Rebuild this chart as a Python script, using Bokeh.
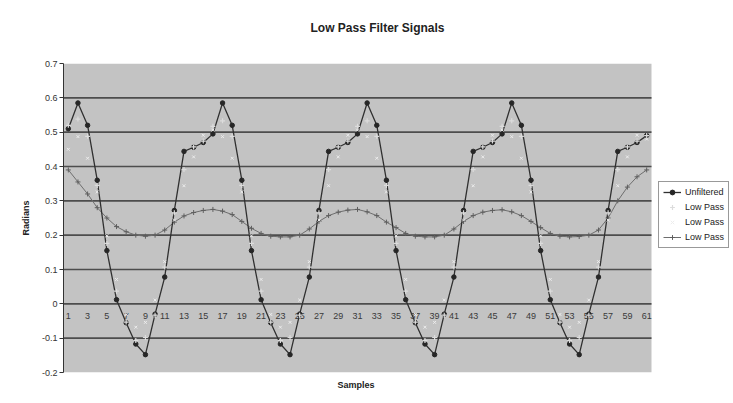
from bokeh.plotting import figure
from bokeh.models import Range1d, FixedTicker, Legend, LegendItem, Title, BoxAnnotation
from bokeh.core.properties import value
from bokeh.embed import file_html
from bokeh.resources import INLINE

# ---------------- data ----------------
samples = list(range(1, 62))

unfiltered = [
    0.51, 0.585, 0.52, 0.36, 0.155, 0.012, -0.055, -0.117, -0.148, -0.03, 0.078, 0.272, 0.444, 0.456, 0.47,
    0.495, 0.585, 0.52, 0.36, 0.155, 0.012, -0.055, -0.117, -0.148, -0.03, 0.078, 0.272, 0.444, 0.456, 0.47,
    0.495, 0.585, 0.52, 0.36, 0.155, 0.012, -0.055, -0.117, -0.148, -0.03, 0.078, 0.272, 0.444, 0.456, 0.47,
    0.495, 0.585, 0.52, 0.36, 0.155, 0.012, -0.055, -0.117, -0.148, -0.03, 0.078, 0.272, 0.444, 0.456, 0.47,
    0.49,
]

low_pass_1 = [
    0.52, 0.538, 0.488, 0.345, 0.176, 0.037, -0.053, -0.107, -0.098, -0.033, 0.107, 0.265, 0.391, 0.457, 0.474,
    0.517, 0.533, 0.488, 0.345, 0.176, 0.037, -0.053, -0.107, -0.098, -0.033, 0.107, 0.265, 0.391, 0.457, 0.474,
    0.517, 0.533, 0.488, 0.345, 0.176, 0.037, -0.053, -0.107, -0.098, -0.033, 0.107, 0.265, 0.391, 0.457, 0.474,
    0.517, 0.533, 0.488, 0.345, 0.176, 0.037, -0.053, -0.107, -0.098, -0.033, 0.107, 0.265, 0.391, 0.457, 0.474,
    0.49,
]

low_pass_2 = [
    0.45, 0.487, 0.424, 0.326, 0.198, 0.071, -0.031, -0.068, -0.054, 0.011, 0.123, 0.244, 0.344, 0.428, 0.491,
    0.506, 0.487, 0.424, 0.326, 0.198, 0.071, -0.031, -0.068, -0.054, 0.011, 0.123, 0.244, 0.344, 0.428, 0.491,
    0.506, 0.487, 0.424, 0.326, 0.198, 0.071, -0.031, -0.068, -0.054, 0.011, 0.123, 0.244, 0.344, 0.428, 0.491,
    0.506, 0.487, 0.424, 0.326, 0.198, 0.071, -0.031, -0.068, -0.054, 0.011, 0.123, 0.244, 0.344, 0.428, 0.491,
    0.48,
]

low_pass_3 = [
    0.39, 0.355, 0.32, 0.28, 0.25, 0.225, 0.21, 0.2, 0.197, 0.2, 0.215, 0.238, 0.256, 0.266, 0.272,
    0.275, 0.27, 0.26, 0.24, 0.22, 0.205, 0.197, 0.195, 0.195, 0.2, 0.218, 0.24, 0.257, 0.267, 0.273,
    0.275, 0.268, 0.257, 0.238, 0.222, 0.205, 0.197, 0.195, 0.195, 0.2, 0.218, 0.24, 0.257, 0.267, 0.272,
    0.274, 0.268, 0.257, 0.24, 0.222, 0.205, 0.197, 0.195, 0.196, 0.2, 0.215, 0.25, 0.3, 0.34, 0.37,
    0.39,
]

x_tick_labels = ["1", "3", "5", "7", "9", "11", "13", "15", "17", "19", "21", "23", "25", "27", "29", "31",
                 "33", "35", "37", "39", "41", "43", "45", "47", "49", "51", "53", "55", "57", "59", "61"]
y_ticks = [0.7, 0.6, 0.5, 0.4, 0.3, 0.2, 0.1, 0.0, -0.1, -0.2]
y_tick_labels = ["0.7", "0.6", "0.5", "0.4", "0.3", "0.2", "0.1", "0", "-0.1", "-0.2"]

FONT = "Liberation Sans"

# plot-area extent in data units (category slots 1..61)
X_LO, X_HI = 0.5, 61.5
Y_LO, Y_HI = -0.2, 0.7
# the frame runs on to the right edge so the legend can sit there (cut by the window like the reference)
X_FRAME_HI = X_LO + (X_HI - X_LO) * 670.0 / 588.0

p = figure(width=733, height=403, output_backend="svg", toolbar_location=None,
           x_range=Range1d(X_LO, X_FRAME_HI), y_range=Range1d(Y_LO, Y_HI),
           min_border_left=63, min_border_right=0, min_border_top=63, min_border_bottom=31,
           background_fill_color="white", border_fill_color="white", outline_line_color=None)

p.title.text = "Low Pass Filter Signals"
p.title.align = "left"
p.title.offset = 247
p.title.text_font = FONT
p.title.text_font_size = "12px"
p.title.text_font_style = "bold"
p.title.text_color = "#222222"
# spacer between title and plot area
p.add_layout(Title(text=" ", text_font_size="11px"), "above")

p.xgrid.visible = False
p.ygrid.visible = False
p.xaxis.visible = False

# "Samples" caption under the plot area
p.add_layout(Title(text="Samples", align="left", offset=274, text_font=FONT, text_font_size="9px",
                   text_font_style="bold", text_color="#222222"), "below")

# left value axis
yax = p.yaxis[0]
yax.ticker = FixedTicker(ticks=y_ticks)
yax.major_label_overrides = {t: l for t, l in zip(y_ticks, y_tick_labels)}
yax.major_label_text_font = FONT
yax.major_label_text_font_size = "9px"
yax.major_label_text_color = "#333333"
yax.major_tick_out = 4
yax.major_tick_in = 0
yax.minor_tick_line_color = None
yax.major_label_standoff = 2
yax.axis_line_color = "#333333"
yax.major_tick_line_color = "#333333"
yax.axis_label = "Radians"
yax.axis_label_text_font = FONT
yax.axis_label_text_font_size = "9px"
yax.axis_label_text_font_style = "bold"
yax.axis_label_text_color = "#222222"
yax.axis_label_standoff = 8

# gray plot area
p.add_layout(BoxAnnotation(left=X_LO, right=X_HI, bottom=Y_LO, top=Y_HI, fill_color="#c3c3c3",
                           fill_alpha=1, line_color=None, level="underlay"))

# horizontal gridlines (interior ones), limited to the plot area
grid_vals = y_ticks[1:-1]
p.segment(x0=[X_LO] * len(grid_vals), x1=[X_HI] * len(grid_vals), y0=grid_vals, y1=grid_vals,
          line_color="#4d4d4d", line_width=1.6)

# category labels sitting just under the zero line
label_x = [int(s) for s in x_tick_labels]
p.text(x=label_x, y=[0.0] * len(label_x), text=x_tick_labels, text_font=value(FONT),
       text_font_size="9px", text_align="center", text_baseline="top", y_offset=9,
       text_color="#3a3a3a")

# series
l4 = p.line(samples, low_pass_3, line_color="#6e6e6e", line_width=1)
m4 = p.scatter(samples, low_pass_3, marker="cross", size=5, line_color="#5e5e5e", line_width=1)

l1 = p.line(samples, unfiltered, line_color="#303030", line_width=1.3)
m1 = p.scatter(samples, unfiltered, marker="circle", size=4.5, fill_color="#262626", line_color="#262626")

m2 = p.scatter(samples, low_pass_1, marker="cross", size=5, line_color="#dcdcdc", line_width=1.2)
m3 = p.scatter(samples, low_pass_2, marker="x", size=4, line_color="#ededed", line_width=1)

legend = Legend(items=[
    LegendItem(label="Unfiltered", renderers=[l1, m1]),
    LegendItem(label="Low Pass", renderers=[m2]),
    LegendItem(label="Low Pass", renderers=[m3]),
    LegendItem(label="Low Pass", renderers=[l4, m4]),
], location=(595, 124), label_text_font=FONT, label_text_font_size="9px", label_text_color="#222222",
   border_line_color="#333333", border_line_width=1, background_fill_color="white", background_fill_alpha=1,
   glyph_width=18, glyph_height=12, label_height=12, spacing=3, padding=4, margin=0, label_standoff=4)
p.add_layout(legend, "center")

open("out.html", "w").write(file_html(p, INLINE))
